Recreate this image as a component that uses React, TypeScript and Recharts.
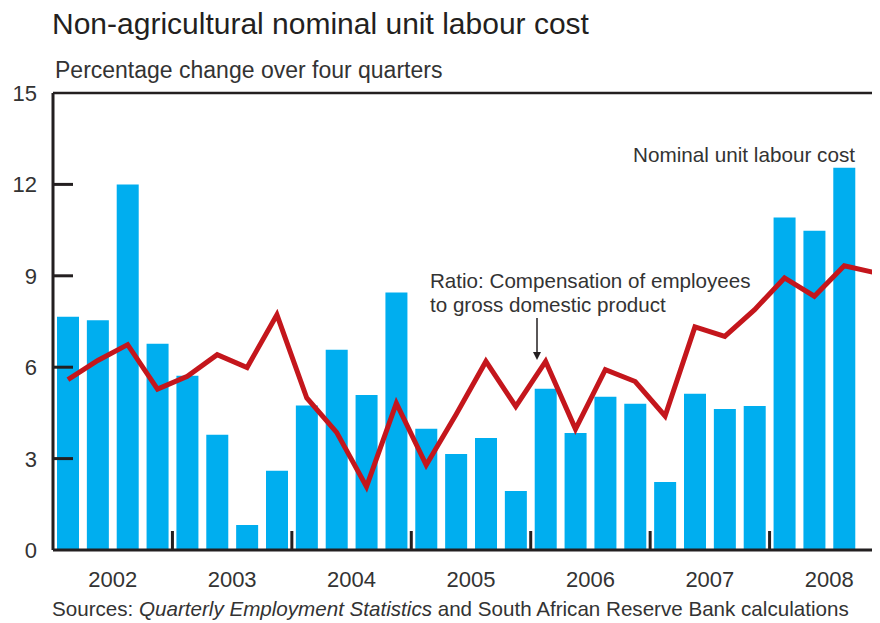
import { ComposedChart, Bar, Line, XAxis, YAxis, ReferenceLine } from 'recharts'

const quarters = [
  '2002Q1', '2002Q2', '2002Q3', '2002Q4',
  '2003Q1', '2003Q2', '2003Q3', '2003Q4',
  '2004Q1', '2004Q2', '2004Q3', '2004Q4',
  '2005Q1', '2005Q2', '2005Q3', '2005Q4',
  '2006Q1', '2006Q2', '2006Q3', '2006Q4',
  '2007Q1', '2007Q2', '2007Q3', '2007Q4',
  '2008Q1', '2008Q2', '2008Q3', '2008Q4',
]

// nominal unit labour cost (bars)
const unitLabourCost = [
  7.66, 7.54, 12.0, 6.77,
  5.72, 3.78, 0.82, 2.6,
  4.74, 6.57, 5.09, 8.45,
  3.98, 3.15, 3.68, 1.94,
  5.29, 3.84, 5.03, 4.8,
  2.23, 5.13, 4.63, 4.73,
  10.91, 10.48, 12.55, null,
]

// ratio: compensation of employees to GDP (line)
const compensationRatio = [
  5.59, 6.22, 6.74, 5.28,
  5.7, 6.41, 5.99, 7.72,
  4.99, 3.86, 2.08, 4.82,
  2.79, 4.45, 6.19, 4.71,
  6.19, 3.97, 5.92, 5.53,
  4.4, 7.32, 7.01, 7.89,
  8.93, 8.33, 9.33, 9.11,
]

const yTicks = [0, 3, 6, 9, 12, 15]

const data = quarters.map((q, i) => ({
  quarter: q,
  year: q.slice(0, 4),
  ulc: unitLabourCost[i],
  ratio: compensationRatio[i],
}))

const FONT = '"Liberation Sans", Arial, sans-serif'
const INK = '#231f20'
const PLOT_LEFT = 45
const CHART_W = 881
const BAND = (CHART_W - PLOT_LEFT) / quarters.length

function YTick({ x, y, payload }: any) {
  const v = payload.value
  return (
    <g>
      {v > 0 && v < 15 && (
        <line x1={PLOT_LEFT} x2={PLOT_LEFT + 20} y1={y} y2={y} stroke={INK} strokeWidth={3} />
      )}
      <text x={x} y={y} dy={8} textAnchor="end" fontSize={22} fill="#333" fontFamily={FONT}>
        {v}
      </text>
    </g>
  )
}

function XTick({ x, y, index, payload }: any) {
  const d = data[index]
  return (
    <g>
      {index % 4 === 0 && index > 0 && (
        <line x1={x - BAND / 2} x2={x - BAND / 2} y1={y} y2={y - 19} stroke={INK} strokeWidth={3} />
      )}
      {index % 4 === 1 && (
        <text x={x + BAND / 2} y={y + 37} textAnchor="middle" fontSize={22} fill="#333" fontFamily={FONT}>
          {d ? d.year : payload.value}
        </text>
      )}
    </g>
  )
}

export default function App() {
  return (
    <div style={{ position: 'relative', width: 872, height: 615, overflow: 'hidden', fontFamily: FONT, color: '#333' }}>
      <div style={{ position: 'absolute', left: 44, top: 1, fontSize: 30, lineHeight: '30px', color: INK, whiteSpace: 'nowrap' }}>
        Non-agricultural nominal unit labour cost
      </div>
      <div style={{ position: 'absolute', left: 47, top: 51, fontSize: 23, lineHeight: '23px', whiteSpace: 'nowrap' }}>
        Percentage change over four quarters
      </div>
      <ComposedChart
        width={CHART_W}
        height={615}
        data={data}
        margin={{ top: 85, right: 0, bottom: 23, left: 0 }}
      >
        <XAxis
          dataKey="quarter"
          interval={0}
          tick={<XTick />}
          tickLine={false}
          tickSize={0}
          tickMargin={0}
          height={50}
          axisLine={{ stroke: INK, strokeWidth: 3 }}
        />
        <YAxis
          domain={[0, 15]}
          ticks={yTicks}
          width={PLOT_LEFT}
          tick={<YTick />}
          tickLine={false}
          tickSize={0}
          tickMargin={16}
          axisLine={{ stroke: INK, strokeWidth: 3 }}
          interval={0}
        />
        <ReferenceLine y={15} stroke={INK} strokeWidth={2.5} />
        <Bar dataKey="ulc" fill="#00aeef" barSize={22} isAnimationActive={false} />
        <Line
          dataKey="ratio"
          type="linear"
          stroke="#c4161c"
          strokeWidth={5}
          dot={false}
          isAnimationActive={false}
        />
      </ComposedChart>
      <div style={{ position: 'absolute', right: 25, top: 136, fontSize: 20.7, lineHeight: '22px', whiteSpace: 'nowrap' }}>
        Nominal unit labour cost
      </div>
      <div style={{ position: 'absolute', left: 422, top: 261, fontSize: 20.6, lineHeight: '24px', whiteSpace: 'nowrap' }}>
        Ratio: Compensation of employees
        <br />
        to gross domestic product
      </div>
      <svg style={{ position: 'absolute', left: 520, top: 308 }} width={20} height={46}>
        <line x1={9} x2={9} y1={2} y2={38} stroke={INK} strokeWidth={1.5} />
        <polygon points="5,36 13,36 9,44" fill={INK} />
      </svg>
      <div style={{ position: 'absolute', left: 44, top: 590, fontSize: 20.6, lineHeight: '22px', whiteSpace: 'nowrap' }}>
        Sources: <i>Quarterly Employment Statistics</i> and South African Reserve Bank calculations
      </div>
    </div>
  )
}
